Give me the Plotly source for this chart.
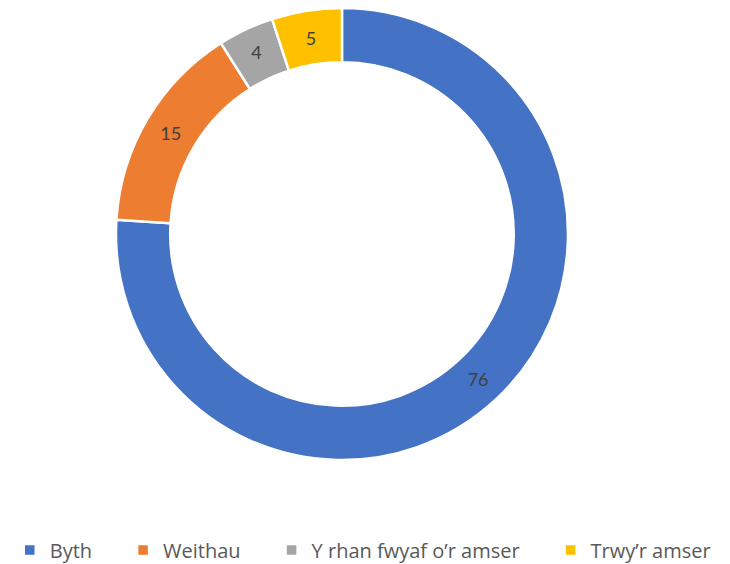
import plotly.graph_objects as go

labels = ["Byth", "Weithau", "Y rhan fwyaf o\u2019r amser", "Trwy\u2019r amser"]
values = [76, 15, 4, 5]
colors = ["#4472C4", "#ED7D31", "#A5A5A5", "#FFC000"]

# pad the legend names a bit, the original legend is spread wider than plotly's default
legend_names = [name + "\u00a0" * 5 for name in labels[:-1]] + [labels[-1]]

fig = go.Figure(
    go.Pie(
        labels=legend_names,
        values=values,
        hole=0.76,
        sort=False,
        direction="clockwise",
        rotation=0,
        domain=dict(x=[0, 0.915], y=[0, 1]),
        marker=dict(colors=colors, line=dict(color="white", width=2.5)),
        texttemplate="%{value}",
        textposition="inside",
        insidetextorientation="horizontal",
        textfont=dict(family="Lato", size=18, color="#404040"),
        hoverinfo="label+value",
    )
)

# the page body adds an 8px offset, margins are set with that in mind
fig.update_layout(
    width=730,
    height=564,
    margin=dict(l=0, r=0, t=0, b=112, autoexpand=False),
    paper_bgcolor="white",
    plot_bgcolor="white",
    font=dict(family="Open Sans", size=20, color="#595959"),
    showlegend=True,
    legend=dict(
        orientation="h",
        x=0.486,
        xanchor="center",
        y=-0.199,
        yanchor="middle",
        font=dict(family="Open Sans", size=20, color="#595959"),
        itemwidth=30,
        traceorder="normal",
    ),
)

fig.write_html("out.html")
